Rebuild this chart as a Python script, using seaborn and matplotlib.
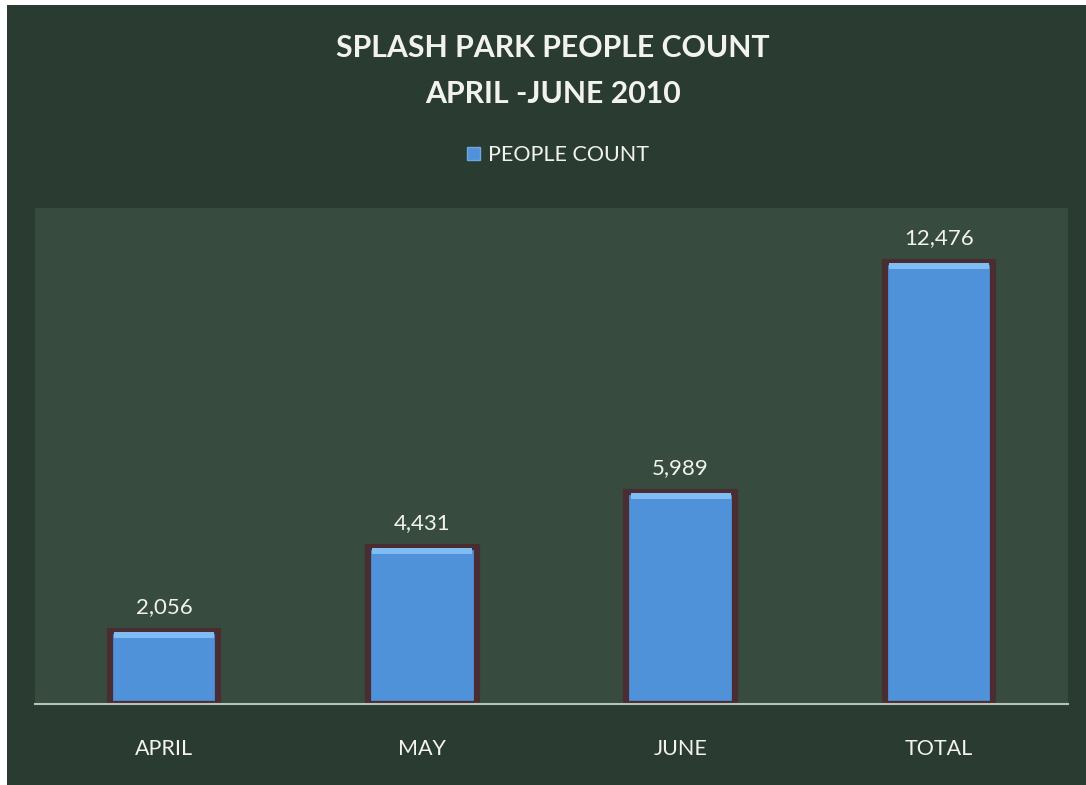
import matplotlib
matplotlib.use('Agg')
import matplotlib.pyplot as plt
import matplotlib.patches as mpatches
import seaborn as sns
import pandas as pd

# Data
months = ['APRIL', 'MAY', 'JUNE', 'TOTAL']
people = [2056, 4431, 5989, 12476]
series_name = 'PEOPLE COUNT'
title_lines = ['SPLASH PARK PEOPLE COUNT', 'APRIL -JUNE 2010']

df = pd.DataFrame({'Month': months, 'Count': people})

bg_dark = '#2a3b31'
bg_plot = '#374c3f'
bar_blue = '#4f92da'
bar_edge = '#4a2d33'
text_col = '#f2f2ee'

sns.set_style('white')
plt.rcParams['font.family'] = ['Lato', 'DejaVu Sans']

fig = plt.figure(figsize=(10.86, 7.85), dpi=100, facecolor='white')
# dark chart background with a thin white scan margin at top/left
fig.patches.append(mpatches.Rectangle((7 / 1086, 0), 1, 1 - 5 / 785,
                                      transform=fig.transFigure,
                                      facecolor=bg_dark, edgecolor='none', zorder=-5))

ax = fig.add_axes([35 / 1086, 81 / 785, 1033 / 1086, 496 / 785])
ax.set_facecolor(bg_plot)

sns.barplot(data=df, x='Month', y='Count', color=bar_blue, width=0.42,
            edgecolor=bar_edge, linewidth=4.5, saturation=1, ax=ax)

# lighter bevel just inside the top of each bar
for p in ax.patches[:len(people)]:
    h = p.get_height()
    w = p.get_width()
    ax.add_patch(mpatches.Rectangle((p.get_x() + w * 0.04, h - 200), w * 0.92, 170,
                                    facecolor='#80bdf2', edgecolor='none', zorder=3))

ax.bar_label(ax.containers[0], labels=[f'{v:,}' for v in people],
             padding=10, color=text_col, fontsize=16)

ax.set_ylim(0, 14000)
ax.set_xlim(-0.5, len(months) - 0.5)
ax.set_xlabel('')
ax.set_ylabel('')
ax.set_yticks([])
ax.tick_params(axis='x', length=0, pad=25, labelsize=15.5, labelcolor=text_col)
for side in ['top', 'left', 'right']:
    ax.spines[side].set_visible(False)
ax.spines['bottom'].set_color('#b9c2b8')
ax.spines['bottom'].set_linewidth(1.5)

fig.text(553 / 1086, 1 - 48 / 785, title_lines[0], ha='center', va='center',
         fontsize=21.8, fontweight='bold', color=text_col)
fig.text(553 / 1086, 1 - 94 / 785, title_lines[1], ha='center', va='center',
         fontsize=21.8, fontweight='bold', color=text_col)

handle = mpatches.Patch(facecolor=bar_blue, edgecolor='#6fa8e0', label=series_name)
leg = fig.legend(handles=[handle], loc='center', bbox_to_anchor=(558 / 1086, 1 - 155 / 785),
                 frameon=False, fontsize=15.5, handlelength=0.6, handleheight=0.6,
                 handletextpad=0.4, labelcolor=text_col)

fig.savefig('out.png', dpi=100, facecolor=fig.get_facecolor())
